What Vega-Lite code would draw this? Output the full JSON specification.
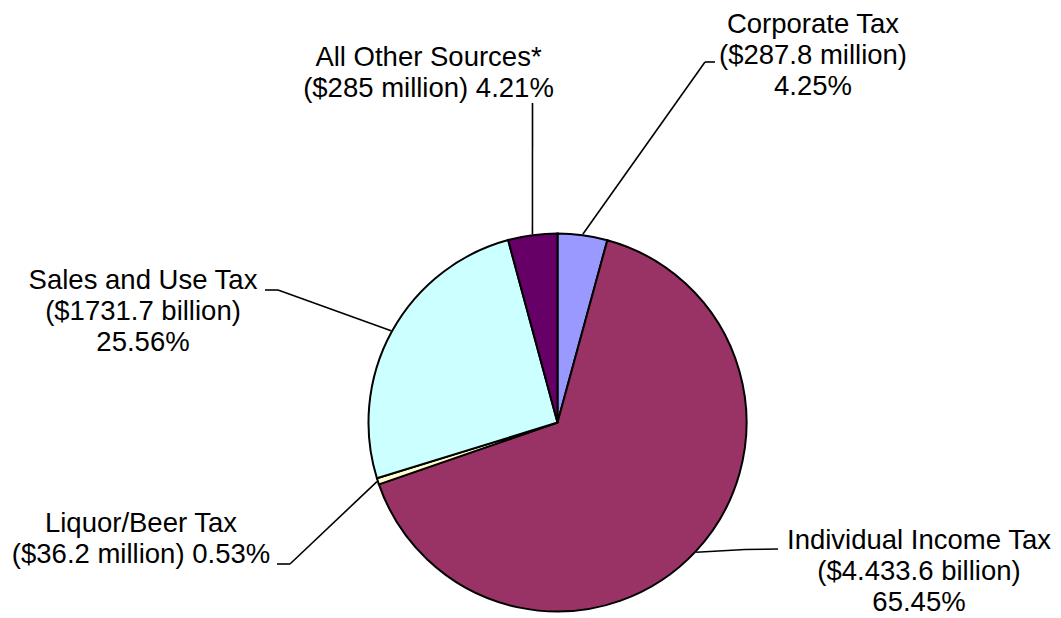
{
  "$schema": "https://vega.github.io/schema/vega-lite/v6.json",
  "width": 1007,
  "height": 391,
  "autosize": {"type": "none"},
  "padding": {"left": 54, "top": 227, "right": 0, "bottom": 0},
  "background": "white",
  "config": {"view": {"stroke": null}},
  "data": {
    "values": [
      {"category": "Corporate Tax", "value": 287.8, "order": 1, "label": ["Corporate Tax", "($287.8 million)", "4.25%"]},
      {"category": "Individual Income Tax", "value": 4433.6, "order": 2, "label": ["Individual Income Tax", "($4.433.6 billion)", "65.45%"]},
      {"category": "Liquor/Beer Tax", "value": 36.2, "order": 3, "label": ["Liquor/Beer Tax", "($36.2 million) 0.53%"]},
      {"category": "Sales and Use Tax", "value": 1731.7, "order": 4, "label": ["Sales and Use Tax", "($1731.7 billion)", "25.56%"]},
      {"category": "All Other Sources*", "value": 285, "order": 5, "label": ["All Other Sources*", "($285 million) 4.21%"]}
    ]
  },
  "layer": [
    {
      "mark": {"type": "arc", "radius": 189, "stroke": "black", "strokeWidth": 2},
      "encoding": {
        "theta": {"field": "value", "type": "quantitative", "stack": true},
        "order": {"field": "order", "type": "quantitative"},
        "color": {
          "field": "category",
          "type": "nominal",
          "scale": {
            "domain": ["Corporate Tax", "Individual Income Tax", "Liquor/Beer Tax", "Sales and Use Tax", "All Other Sources*"],
            "range": ["#9999FF", "#993366", "#FFFFCC", "#CCFFFF", "#660066"]
          },
          "legend": null
        }
      }
    },
    {
      "transform": [
        {"joinaggregate": [{"op": "sum", "field": "value", "as": "total"}]},
        {"window": [{"op": "sum", "field": "value", "as": "cum"}], "sort": [{"field": "order"}], "frame": [null, 0]},
        {"calculate": "2*PI*(datum.cum - datum.value/2)/datum.total", "as": "mid"},
        {"calculate": "190*sin(datum.mid)", "as": "sx"},
        {"calculate": "190*cos(datum.mid)", "as": "sy"},
        {"calculate": "datum.category=='Corporate Tax'?147.5:datum.category=='Individual Income Tax'?187.5:datum.category=='Liquor/Beer Tax'?-267.5:datum.category=='Sales and Use Tax'?-279.5:-25", "as": "ex1"},
        {"calculate": "datum.category=='Corporate Tax'?360.5:datum.category=='Individual Income Tax'?-127:datum.category=='Liquor/Beer Tax'?-141.5:datum.category=='Sales and Use Tax'?132.5:319.5", "as": "ey1"}
      ],
      "mark": {"type": "rule", "stroke": "black", "strokeWidth": 1.6},
      "encoding": {
        "x": {"field": "sx", "type": "quantitative", "scale": {"domain": [-503.5, 503.5], "nice": false, "zero": false}, "axis": null},
        "y": {"field": "sy", "type": "quantitative", "scale": {"domain": [-195.5, 195.5], "nice": false, "zero": false}, "axis": null},
        "x2": {"field": "ex1"},
        "y2": {"field": "ey1"}
      }
    },
    {
      "transform": [
        {"calculate": "datum.category=='Corporate Tax'?147.5:datum.category=='Individual Income Tax'?187.5:datum.category=='Liquor/Beer Tax'?-267.5:datum.category=='Sales and Use Tax'?-279.5:-25", "as": "ex1"},
        {"calculate": "datum.category=='Corporate Tax'?360.5:datum.category=='Individual Income Tax'?-127:datum.category=='Liquor/Beer Tax'?-141.5:datum.category=='Sales and Use Tax'?132.5:319.5", "as": "ey1"},
        {"calculate": "datum.category=='Corporate Tax'?157.5:datum.category=='Individual Income Tax'?220.5:datum.category=='Liquor/Beer Tax'?-280.5:datum.category=='Sales and Use Tax'?-292.5:-25", "as": "ex2"},
        {"calculate": "datum.category=='Corporate Tax'?360.5:datum.category=='Individual Income Tax'?-126.5:datum.category=='Liquor/Beer Tax'?-141.5:datum.category=='Sales and Use Tax'?132.5:319.5", "as": "ey2"}
      ],
      "mark": {"type": "rule", "stroke": "black", "strokeWidth": 1.6},
      "encoding": {
        "x": {"field": "ex1", "type": "quantitative", "scale": {"domain": [-503.5, 503.5], "nice": false, "zero": false}, "axis": null},
        "y": {"field": "ey1", "type": "quantitative", "scale": {"domain": [-195.5, 195.5], "nice": false, "zero": false}, "axis": null},
        "x2": {"field": "ex2"},
        "y2": {"field": "ey2"}
      }
    },
    {
      "transform": [
        {"calculate": "datum.category=='Corporate Tax'?255.5:datum.category=='Individual Income Tax'?361.5:datum.category=='Liquor/Beer Tax'?-416.5:datum.category=='Sales and Use Tax'?-414.5:-129", "as": "lx"},
        {"calculate": "datum.category=='Corporate Tax'?389.5:datum.category=='Individual Income Tax'?-126.8:datum.category=='Liquor/Beer Tax'?-109.2:datum.category=='Sales and Use Tax'?133.2:356.8", "as": "ly"}
      ],
      "mark": {"type": "text", "font": "Liberation Sans", "fontSize": 27.5, "lineHeight": 31, "align": "center", "baseline": "alphabetic", "fill": "black"},
      "encoding": {
        "x": {"field": "lx", "type": "quantitative", "scale": {"domain": [-503.5, 503.5], "nice": false, "zero": false}, "axis": null},
        "y": {"field": "ly", "type": "quantitative", "scale": {"domain": [-195.5, 195.5], "nice": false, "zero": false}, "axis": null},
        "text": {"field": "label"}
      }
    }
  ]
}
